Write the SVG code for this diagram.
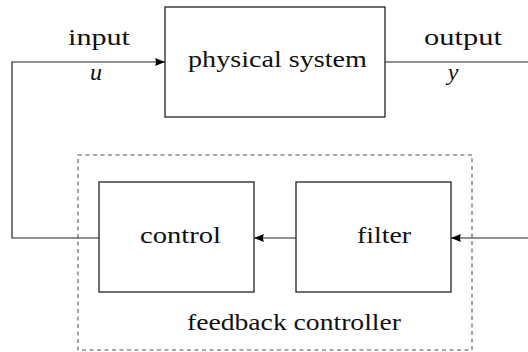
<svg xmlns="http://www.w3.org/2000/svg" width="528" height="352" viewBox="0 0 528 352">
<defs>
<marker id="arr" viewBox="0 0 10 8" refX="10" refY="4" markerWidth="10" markerHeight="8" markerUnits="userSpaceOnUse" orient="auto">
<path d="M0,0 L10,4 L0,8 Q2,4 0,0 Z" fill="#000"/>
</marker>
<style>
.box{fill:#fff;stroke:#222;stroke-width:1.3}
.dash{fill:none;stroke:#555;stroke-width:1.1;stroke-dasharray:4 3.5}
.ln{fill:none;stroke:#222;stroke-width:1.2}
text{font-family:'Liberation Serif','Times New Roman',Tinos,'Noto Serif','DejaVu Serif',serif;font-size:24px;fill:#111}
.m{font-style:italic}
</style>
</defs>
<rect fill="#fff" width="528" height="352"/>
<g id="feedback-controller">
<rect class="dash" x="78" y="155" width="394" height="195"/>
<text x="187" y="330" textLength="214" lengthAdjust="spacingAndGlyphs">feedback controller</text>
</g>
<g id="connectors">
<path class="ln" d="M99,238 H12 V62 H165" marker-end="url(#arr)"/>
<path class="ln" d="M385,62 H528"/>
<path class="ln" d="M296,238 H254" marker-end="url(#arr)"/>
<path class="ln" d="M528,238 H451" marker-end="url(#arr)"/>
</g>
<g id="physical-system">
<rect class="box" x="165" y="7" width="220" height="110"/>
<text x="188" y="67" textLength="179" lengthAdjust="spacingAndGlyphs">physical system</text>
</g>
<g id="control">
<rect class="box" x="99" y="182" width="155" height="110"/>
<text x="140" y="243" textLength="81" lengthAdjust="spacingAndGlyphs">control</text>
</g>
<g id="filter">
<rect class="box" x="296" y="182" width="155" height="110"/>
<text x="357" y="243" textLength="54" lengthAdjust="spacingAndGlyphs">filter</text>
</g>
<g id="labels">
<text x="68" y="45" textLength="62" lengthAdjust="spacingAndGlyphs">input</text>
<text class="m" x="96" y="80" text-anchor="middle">u</text>
<text x="424" y="45" textLength="78" lengthAdjust="spacingAndGlyphs">output</text>
<text class="m" x="453" y="80" text-anchor="middle">y</text>
</g>
</svg>
